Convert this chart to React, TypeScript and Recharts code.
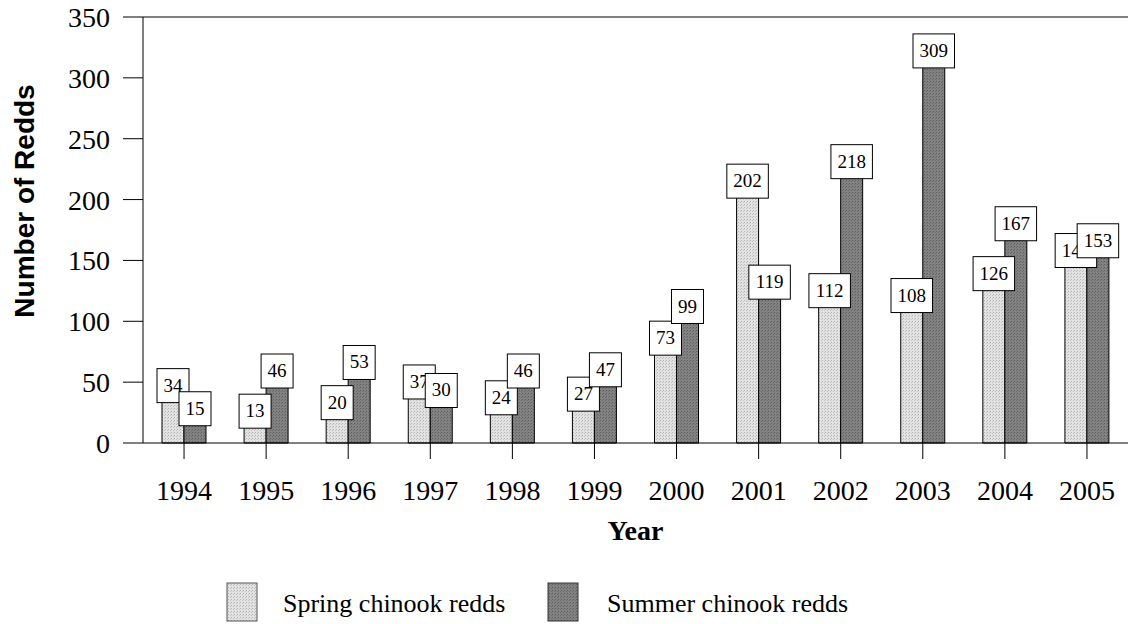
import { BarChart, Bar, XAxis, YAxis, Legend, LabelList, ReferenceLine } from "recharts"

const years = ["1994", "1995", "1996", "1997", "1998", "1999", "2000", "2001", "2002", "2003", "2004", "2005"]
const springRedds = [34, 13, 20, 37, 24, 27, 73, 202, 112, 108, 126, 145]
const summerRedds = [15, 46, 53, 30, 46, 47, 99, 119, 218, 309, 167, 153]
const yTicks = [0, 50, 100, 150, 200, 250, 300, 350]

const data = years.map((year, i) => ({
  year,
  spring: springRedds[i],
  summer: summerRedds[i],
}))

const serif = '"Liberation Serif", "Times New Roman", serif'
const sans = '"Liberation Sans", Arial, sans-serif'

const Patterns = ({ prefix }: { prefix: string }) => (
  <defs>
    <pattern id={`${prefix}-spring`} width="3" height="3" patternUnits="userSpaceOnUse">
      <rect width="3" height="3" fill="#e2e2e2" />
      <rect x="0" y="0" width="1" height="1" fill="#b4b4b4" />
      <rect x="2" y="1" width="1" height="1" fill="#c4c4c4" />
    </pattern>
    <pattern id={`${prefix}-summer`} width="3" height="3" patternUnits="userSpaceOnUse">
      <rect width="3" height="3" fill="#828282" />
      <rect x="0" y="0" width="1" height="1" fill="#5e5e5e" />
      <rect x="2" y="1" width="1" height="1" fill="#6c6c6c" />
    </pattern>
  </defs>
)

function BoxLabel(props: any) {
  const { x, y, width, value } = props
  const cx = Number(x) + Number(width) / 2
  const w = String(value).length * 9.5 + 13
  const h = 34
  return (
    <g>
      <rect x={cx - w / 2} y={y - h + 1} width={w} height={h} fill="#fff" stroke="#000" strokeWidth={1} />
      <text x={cx} y={y - 10} textAnchor="middle" fontSize={19} fontFamily={serif} fill="#000">
        {value}
      </text>
    </g>
  )
}

function LegendBox() {
  return (
    <svg width={1134} height={64} style={{ display: "block" }}>
      <Patterns prefix="lg" />
      <rect x={227} y={23} width={30} height={38} fill="url(#lg-spring)" stroke="#555" />
      <text x={283} y={52} fontSize={26} fontFamily={serif} fill="#000">
        Spring chinook redds
      </text>
      <rect x={548} y={23} width={30} height={38} fill="url(#lg-summer)" stroke="#333" />
      <text x={607} y={52} fontSize={26} fontFamily={serif} fill="#000">
        Summer chinook redds
      </text>
    </svg>
  )
}

export default function App() {
  return (
    <div style={{ position: "absolute", left: 0, top: 0, background: "#fff" }}>
      <BarChart
        width={1134}
        height={624}
        data={data}
        margin={{ top: 17, right: 6, left: 0, bottom: 0 }}
        barCategoryGap={19}
        barGap={0}
      >
        <Patterns prefix="ch" />
        <XAxis
          dataKey="year"
          height={117}
          stroke="#000"
          tickSize={16}
          tickMargin={21}
          tick={{ fill: "#000", fontSize: 28, fontFamily: serif }}
          label={(p: any) => {
            const vb = p.viewBox
            return (
              <text x={vb.x + vb.width / 2} y={vb.y + 97} textAnchor="middle" fontSize={28} fontWeight="bold" fontFamily={serif} fill="#000">
                Year
              </text>
            )
          }}
        />
        <YAxis
          width={143}
          domain={[0, 350]}
          ticks={yTicks}
          interval={0}
          stroke="#000"
          tickSize={20}
          tickMargin={13}
          tick={{ fill: "#000", fontSize: 28, fontFamily: serif }}
          label={() => (
            <text x={34} y={201} transform="rotate(-90 34 201)" textAnchor="middle" fontSize={28} fontWeight="bold" fontFamily={sans} fill="#000">
              Number of Redds
            </text>
          )}
        />
        <ReferenceLine y={350} stroke="#000" />
        <Bar dataKey="spring" fill="url(#ch-spring)" stroke="#000" strokeWidth={1} isAnimationActive={false}>
          <LabelList dataKey="spring" content={BoxLabel} />
        </Bar>
        <Bar dataKey="summer" fill="url(#ch-summer)" stroke="#000" strokeWidth={1} isAnimationActive={false}>
          <LabelList dataKey="summer" content={BoxLabel} />
        </Bar>
        <Legend verticalAlign="bottom" content={() => <LegendBox />} wrapperStyle={{ left: 0, width: 1134, height: 64 }} />
      </BarChart>
    </div>
  )
}
